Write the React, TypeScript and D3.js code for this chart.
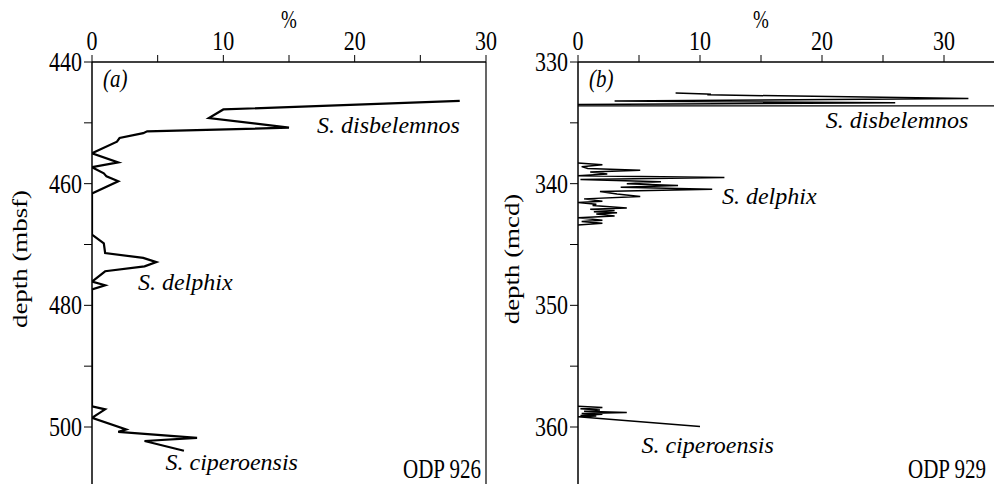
import React from "react";
import * as d3 from "d3";

// ---------- data ----------
// Panel (a) ODP 926: [depth (mbsf), percent]
const seriesA: [number, number][] = [
  [446.4, 28.0], [447.8, 10.0], [449.2, 8.9], [450.8, 15.0], [451.4, 4.2], [451.7, 3.9],
  [452.5, 2.1], [453.1, 1.9], [455.0, 0], [456.5, 2.0], [457.3, 0], [458.3, 0.9],
  [458.8, 1.1], [459.6, 2.0], [461.6, 0], [468.4, 0], [469.8, 0.9], [471.4, 1.0],
  [472.2, 3.9], [472.9, 4.9], [473.6, 4.0], [474.4, 1.0], [476.1, 0], [476.7, 1.0],
  [477.4, 0], [496.6, 0], [497.1, 1.0], [498.5, 0], [500.4, 2.6], [500.8, 2.0],
  [501.8, 8.0], [502.3, 4.0], [503.9, 7.0],
];

// Panel (b) ODP 929: [depth (mcd), percent]
const seriesBTop: [number, number][] = [
  [332.55, 8.0], [332.62, 10.5], [332.66, 10.9], [332.7, 10.6], [333.0, 32.0],
  [333.2, 3.0], [333.35, 26.0], [333.5, 0],
];
const seriesBMid: [number, number][] = [
  [338.3, 0], [338.45, 2.0], [338.6, 0.3], [338.75, 0.8], [338.9, 5.1], [339.05, 1.0],
  [339.2, 2.4], [339.35, 0], [339.5, 12.0], [339.65, 0.2], [339.85, 6.8], [340.0, 4.0],
  [340.15, 8.2], [340.3, 3.5], [340.45, 11.0], [340.65, 1.8], [340.85, 3.2], [341.05, 5.1],
  [341.25, 0.5], [341.45, 2.0], [341.55, 0], [341.7, 1.5], [341.8, 1.2], [342.0, 4.0],
  [342.1, 1.0], [342.2, 3.0], [342.3, 1.3], [342.4, 3.2], [342.5, 1.5], [342.65, 3.0],
  [342.8, 0], [343.0, 2.0], [343.1, 0.3], [343.25, 2.0], [343.4, 0],
];
const seriesBLow: [number, number][] = [
  [358.3, 0], [358.4, 2.0], [358.5, 0.2], [358.6, 1.8], [358.7, 0.5], [358.8, 4.0],
  [358.9, 0.3], [358.95, 2.0], [359.05, 0.2], [359.1, 1.5], [359.15, 0], [359.95, 10.0],
];
const boundaryDepthB = 333.6;

const xTicksLabel = [0, 10, 20, 30];
const xTicksMinor = [0, 5, 10, 15, 20, 25, 30];
const yTicksA = [440, 460, 480, 500];
const yTicksAMinor = [440, 450, 460, 470, 480, 490, 500];
const yTicksB = [330, 340, 350, 360];
const yTicksBMinor = [330, 335, 340, 345, 350, 355, 360];

const labelsA = [
  { text: "S. disbelemnos", x: 28.0, y: 451.6, anchor: "end" },
  { text: "S. delphix", x: 3.5, y: 477.5, anchor: "start" },
  { text: "S. ciperoensis", x: 5.6, y: 507.1, anchor: "start" },
];
const labelsB = [
  { text: "S. disbelemnos", x: 32.0, y: 335.4, anchor: "end" },
  { text: "S. delphix", x: 11.8, y: 341.7, anchor: "start" },
  { text: "S. ciperoensis", x: 5.2, y: 362.1, anchor: "start" },
];

const W = 994;
const H = 484;
const FONT = "'Liberation Serif', 'Times New Roman', Times, serif";
const FS = 22;
const STRETCH = 1.28;

type Panel = {
  left: number;
  right: number;
  xMax: number;
  yDomain: [number, number];
  yTicks: number[];
  yMinor: number[];
  series: [number, number][][];
  labels: { text: string; x: number; y: number; anchor: string }[];
  tag: string;
  site: string;
  yTitle: string;
  yTitleX: number;
  rightBorder: boolean;
  lineW: number;
  boundary?: number;
};

const TOP = 62;

function Stretched({ x, y, anchor, size, children }: any) {
  return (
    <text transform={`translate(${x},${y}) scale(1,${STRETCH})`} fontSize={size} textAnchor={anchor}>
      {children}
    </text>
  );
}

export default function App() {
  const panels: Panel[] = [
    {
      left: 92, right: 486, xMax: 30, yDomain: [440, 500], yTicks: yTicksA, yMinor: yTicksAMinor,
      series: [seriesA], labels: labelsA, tag: "(a)", site: "ODP 926", yTitle: "depth (mbsf)",
      yTitleX: 20, rightBorder: true, lineW: 2.2,
    },
    {
      left: 578, right: 944, xMax: 30, yDomain: [330, 360], yTicks: yTicksB, yMinor: yTicksBMinor,
      series: [seriesBTop, seriesBMid, seriesBLow], labels: labelsB, tag: "(b)", site: "ODP 929",
      yTitle: "depth (mcd)", yTitleX: 512, rightBorder: false, lineW: 1.5, boundary: boundaryDepthB,
    },
  ];
  const yBottomPx = 427;

  return (
    <svg width={W} height={H} style={{ position: "absolute", left: 0, top: 0, background: "#fff" }}
      fontFamily={FONT}>
      {panels.map((p, pi) => {
        const x = d3.scaleLinear().domain([0, p.xMax]).range([p.left, p.right]);
        const y = d3.scaleLinear().domain(p.yDomain).range([TOP, yBottomPx]);
        const xEnd = p.rightBorder ? p.right : W + 5;
        const line = d3.line<[number, number]>().x((d) => x(d[1])).y((d) => y(d[0]));
        const clipId = `clip${pi}`;
        return (
          <g key={pi}>
            <defs>
              <clipPath id={clipId}>
                <rect x={p.left} y={TOP} width={xEnd - p.left} height={H - TOP} />
              </clipPath>
            </defs>
            <line x1={p.left} x2={xEnd} y1={TOP} y2={TOP} stroke="#000" strokeWidth={1.5} />
            {xTicksMinor.map((t) => (
              <line key={t} x1={x(t)} x2={x(t)} y1={TOP} y2={TOP - 7} stroke="#000" strokeWidth={1} />
            ))}
            {xTicksLabel.map((t) => (
              <Stretched key={t} x={x(t)} y={TOP - 12} anchor="middle" size={FS}>{t}</Stretched>
            ))}
            <Stretched x={x(15)} y={28} anchor="middle" size={FS - 3}>%</Stretched>
            <line x1={p.left} x2={p.left} y1={TOP} y2={H} stroke="#000" strokeWidth={1.5} />
            {p.rightBorder && (
              <line x1={p.right} x2={p.right} y1={TOP} y2={H} stroke="#000" strokeWidth={1.2} />
            )}
            {p.yMinor.map((t) => (
              <line key={t} x1={p.left - 8} x2={p.left} y1={y(t)} y2={y(t)} stroke="#000" strokeWidth={1} />
            ))}
            {p.yTicks.map((t) => (
              <Stretched key={t} x={p.left - 10} y={y(t) + 9} anchor="end" size={FS}>{t}</Stretched>
            ))}
            <text
              transform={`translate(${p.yTitleX},${259}) rotate(-90) scale(${STRETCH},1)`}
              fontSize={FS - 1}
              textAnchor="middle"
              dy="0.35em"
            >
              {p.yTitle}
            </text>
            <g clipPath={`url(#${clipId})`}>
              {p.series.map((s, si) => (
                <path key={si} d={line(s) || ""} fill="none" stroke="#000" strokeWidth={p.lineW}
                  strokeLinejoin="miter" />
              ))}
              {p.boundary !== undefined && (
                <line x1={p.left} x2={xEnd} y1={y(p.boundary)} y2={y(p.boundary)} stroke="#000"
                  strokeWidth={1.3} />
              )}
            </g>
            <text transform={`translate(${p.left + 11},${87}) scale(1,1.15)`} fontSize={FS - 1}
              fontStyle="italic">
              {p.tag}
            </text>
            {p.labels.map((l, li) => (
              <text key={li} x={x(l.x)} y={y(l.y)} fontSize={24} fontStyle="italic"
                textAnchor={l.anchor as any}>
                {l.text}
              </text>
            ))}
            <Stretched x={pi === 0 ? 481 : 986} y={478} anchor="end" size={FS - 1}>
              {p.site}
            </Stretched>
          </g>
        );
      })}
    </svg>
  );
}
